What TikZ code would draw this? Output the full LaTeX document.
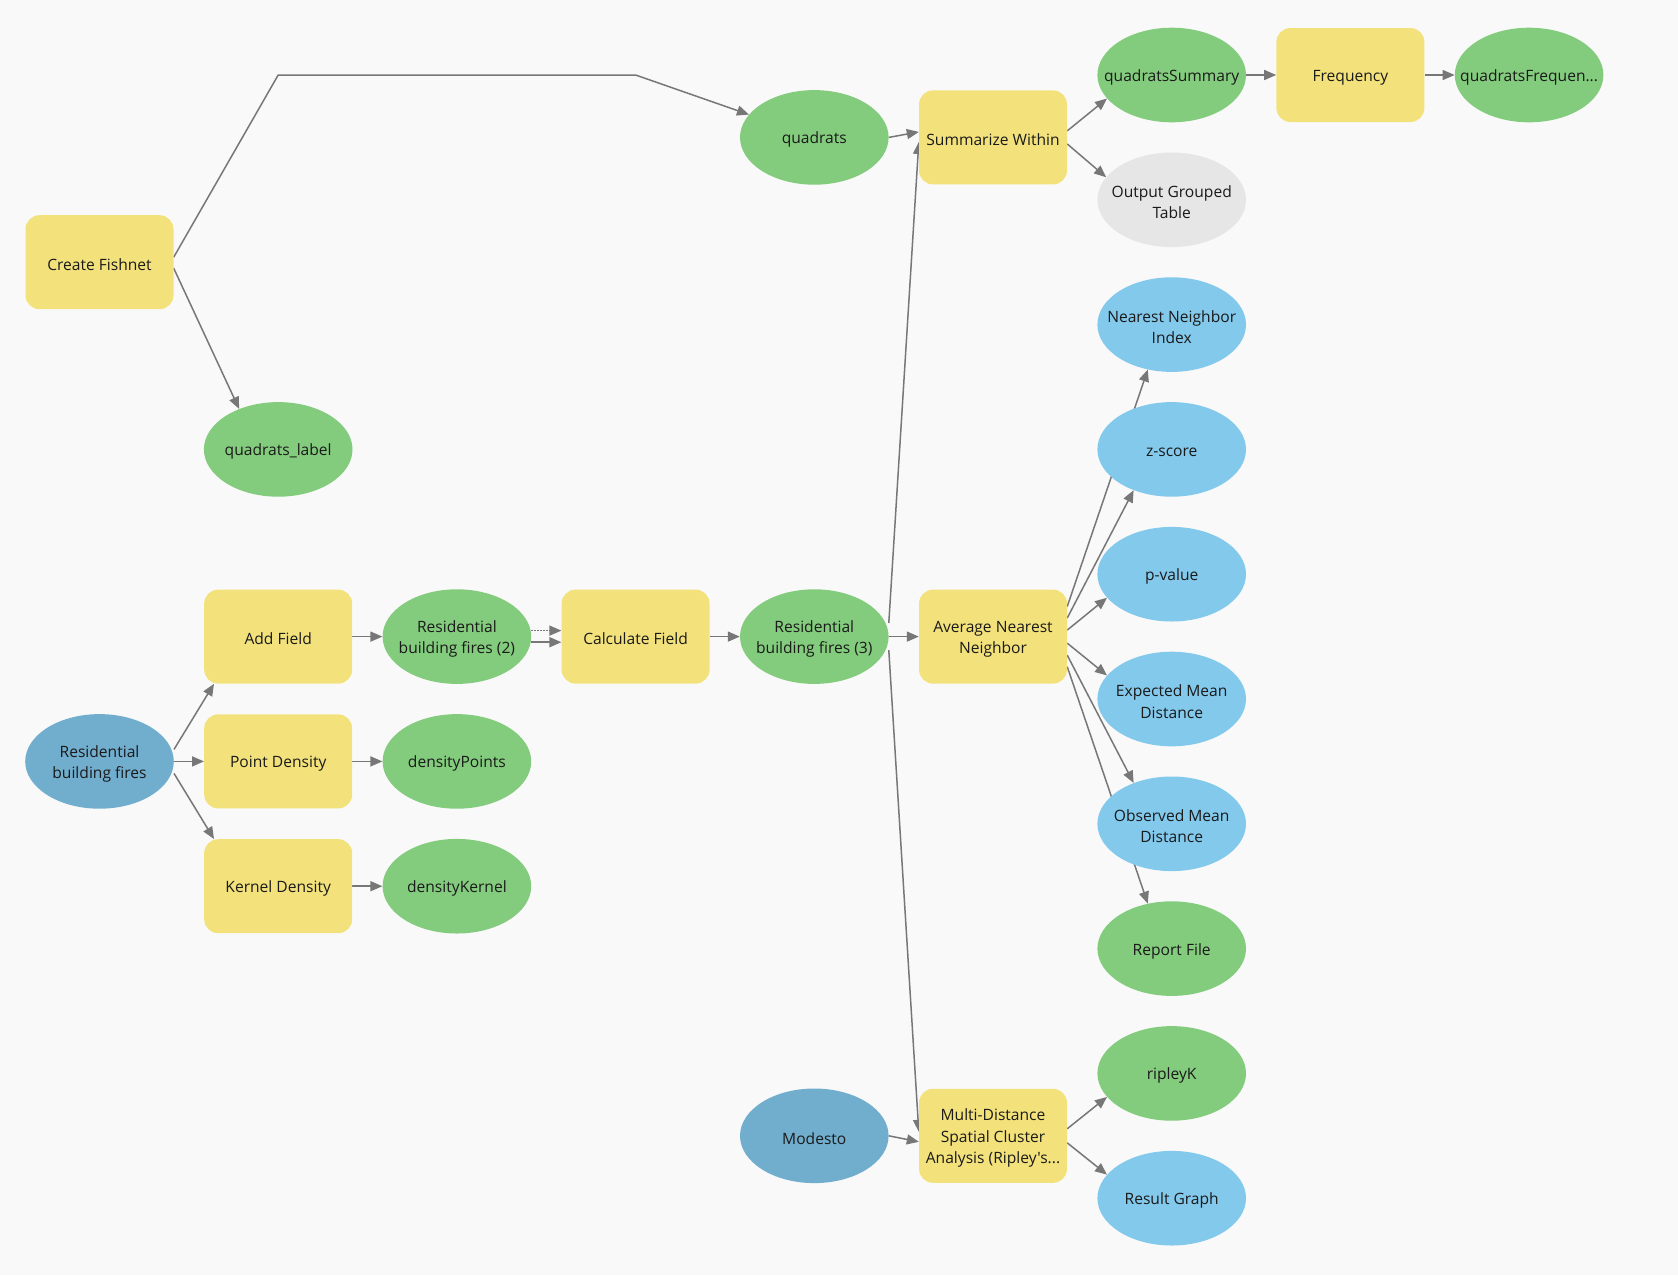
\documentclass[tikz,border=0pt]{standalone}
\usepackage{fontspec}
\newfontfamily\uifont{Open Sans}[Ligatures=TeXOff]
\usetikzlibrary{shapes.geometric,arrows.meta}
\pgfdeclarelayer{bglayer}
\pgfdeclarelayer{edgelayer}
\pgfsetlayers{bglayer,edgelayer,main}
\definecolor{bgc}{HTML}{F9F9F9}
\definecolor{yel}{HTML}{F3E27B}
\definecolor{grn}{HTML}{84CC7D}
\definecolor{blu}{HTML}{83C9EC}
\definecolor{dblu}{HTML}{71AECE}
\definecolor{gry}{HTML}{E6E6E6}
\definecolor{linec}{HTML}{777777}
\definecolor{txtc}{HTML}{1A1A1A}
\newcommand\uitext{\uifont\fontsize{15.6}{21.5}\selectfont}
\tikzset{
  dtext/.style={align=center, font=\uitext, text=txtc, inner sep=0pt, yshift=-2.5pt},
  tool/.style={rectangle, rounded corners=14pt, fill=yel, minimum width=148pt, minimum height=94pt, inner sep=0pt, label={[dtext]center:{#1}}},
  data/.style 2 args={ellipse, fill=#1, minimum width=148.6pt, minimum height=94.6pt, inner sep=0pt, label={[dtext]center:{#2}}},
  conn/.style={draw=linec, line width=1.5pt, -{Triangle[length=12pt,width=10pt]}},
  dotconn/.style={conn, dash pattern=on 1.5pt off 1.5pt},
}
\begin{document}
\begin{tikzpicture}[x=1pt,y=-1pt]
\useasboundingbox (0,0) rectangle (1678,1275);
\begin{pgfonlayer}{bglayer}
\fill[bgc] (0,0) rectangle (1678,1275);
\end{pgfonlayer}

% tools
\node[tool={Create Fishnet}] (cf) at (99.5,262.2) {};
\node[tool={Summarize Within}] (sw) at (993,137.4) {};
\node[tool={Frequency}] (freq) at (1350.4,75) {};
\node[tool={Add Field}] (af) at (278.2,636.6) {};
\node[tool={Calculate Field}] (calc) at (635.6,636.6) {};
\node[tool={Average Nearest\\Neighbor}] (ann) at (993,636.6) {};
\node[tool={Point Density}] (pd) at (278.2,761.4) {};
\node[tool={Kernel Density}] (kd) at (278.2,886.2) {};
\node[tool={Multi-Distance\\Spatial Cluster\\Analysis (Ripley's...}] (md) at (993,1135.8) {};

% data
\node[data={grn}{quadrats\_label}] (ql) at (278.2,449.4) {};
\node[data={grn}{quadrats}] (q) at (814.3,137.4) {};
\node[data={grn}{quadratsSummary}] (qs) at (1171.7,75) {};
\node[data={grn}{quadratsFrequen...}] (qf) at (1529.1,75) {};
\node[data={gry}{Output Grouped\\Table}] (og) at (1171.7,199.8) {};
\node[data={blu}{Nearest Neighbor\\Index}] (nni) at (1171.7,324.6) {};
\node[data={blu}{z-score}] (zs) at (1171.7,449.4) {};
\node[data={blu}{p-value}] (pv) at (1171.7,574.2) {};
\node[data={blu}{Expected Mean\\Distance}] (emd) at (1171.7,699) {};
\node[data={blu}{Observed Mean\\Distance}] (omd) at (1171.7,823.8) {};
\node[data={grn}{Report File}] (rf) at (1171.7,948.6) {};
\node[data={grn}{ripleyK}] (rk) at (1171.7,1073.4) {};
\node[data={blu}{Result Graph}] (rg) at (1171.7,1198.2) {};
\node[data={grn}{Residential\\building fires (2)}] (rbf2) at (456.9,636.6) {};
\node[data={grn}{Residential\\building fires (3)}] (rbf3) at (814.3,636.6) {};
\node[data={dblu}{Residential\\building fires}] (rbf) at (99.5,761.4) {};
\node[data={grn}{densityPoints}] (dp) at (456.9,761.4) {};
\node[data={grn}{densityKernel}] (dk) at (456.9,886.2) {};
\node[data={dblu}{Modesto}] (mod) at (814.3,1135.8) {};

\coordinate (b1) at (278.2,75);
\coordinate (b2) at (635.6,75);

\begin{pgfonlayer}{edgelayer}
\draw[conn] ([yshift=5pt]cf.east) -- (b1) -- (b2) -- (q);
\draw[conn] ([yshift=-6pt]cf.east) -- (ql.134);
\draw[conn] (q.east) -- ([yshift=5.5pt]sw.west);
\draw[conn] ([yshift=13.6pt]rbf3.east) -- ([yshift=-4.6pt]sw.west);
\draw[conn] ([yshift=-13.6pt]rbf3.east) -- ([yshift=4pt]md.west);
\draw[conn] (mod.east) -- ([yshift=-6pt]md.west);
\draw[conn] ([yshift=7pt]md.east) -- (rk.200);
\draw[conn] ([yshift=-7pt]md.east) -- (rg.160);
\draw[conn] ([yshift=6.5pt]sw.east) -- (qs.200);
\draw[conn] ([yshift=-6.5pt]sw.east) -- (og.161);
\draw[conn] (qs.east) -- (freq.west);
\draw[conn] (freq.east) -- (qf.west);
\draw[conn] ([yshift=30pt]ann.east) -- (nni.242);
\draw[conn] ([yshift=18.5pt]ann.east) -- (zs.227);
\draw[conn] ([yshift=6.5pt]ann.east) -- (pv.200);
\draw[conn] ([yshift=-6.5pt]ann.east) -- (emd.160);
\draw[conn] ([yshift=-18.5pt]ann.east) -- (omd.133);
\draw[conn] ([yshift=-30pt]ann.east) -- (rf.118);
\draw[conn] (rbf3.east) -- (ann.west);
\draw[conn] (calc.east) -- (rbf3.west);
\draw[dotconn] ([yshift=6pt]rbf2.east) -- ([yshift=6pt]calc.west);
\draw[conn] ([yshift=-5.6pt]rbf2.east) -- ([yshift=-5.6pt]calc.west);
\draw[conn] (af.east) -- (rbf2.west);
\draw[conn] ([yshift=12pt]rbf.east) -- ([xshift=10pt]af.south west);
\draw[conn] (rbf.east) -- (pd.west);
\draw[conn] ([yshift=-12pt]rbf.east) -- ([xshift=10pt]kd.north west);
\draw[conn] (pd.east) -- (dp.west);
\draw[conn] (kd.east) -- (dk.west);
\end{pgfonlayer}
\end{tikzpicture}
\end{document}
